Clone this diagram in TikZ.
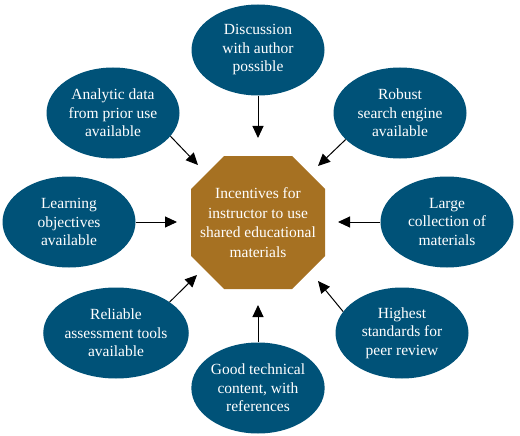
\documentclass[tikz,border=0pt]{standalone}
\usepackage{fontspec}
\setmainfont{Liberation Serif}
\usetikzlibrary{shapes.geometric,arrows.meta}
\definecolor{ellblue}{RGB}{0,82,120}
\definecolor{octgold}{RGB}{166,113,34}
\tikzset{
  idea/.style={ellipse, fill=ellblue, text=white, minimum width=133pt, minimum height=91pt,
    inner sep=0pt, align=center, font=\fontsize{15.5}{18.5}\selectfont},
  centertext/.style={text=white, align=center, inner sep=0pt, font=\fontsize{15.5}{19.5}\selectfont},
  feed/.style={draw=black, line width=1pt, -{Triangle[length=12pt,width=11pt]}}
}
\begin{document}
\begin{tikzpicture}[x=1pt,y=-1pt]
\useasboundingbox (0,0) rectangle (520,436);
% octagon
\fill[octgold] (224,156) -- (292,156) -- (325,189) -- (325,256) -- (292,289) -- (224,289) -- (191,256) -- (191,189) -- cycle;
\node[centertext] (oct) at (258,222.5) {Incentives for\\instructor to use\\shared educational\\materials};
% ideas
\node[idea] (top) at (258,50) {Discussion\\with author\\possible};
\node[idea] (tl) at (113,113) {Analytic data\\from prior use\\available};
\node[idea] (tr) at (400,113) {Robust\\search engine\\available};
\node[idea] (le) at (69,222) {Learning\\objectives\\available};
\node[idea] (ri) at (447,222) {Large\\collection of\\materials};
\node[idea] (bl) at (116,333) {Reliable\\assessment tools\\available};
\node[idea] (br) at (402,333) {Highest\\standards for\\peer review};
\node[idea] (bo) at (258,388) {Good technical\\content, with\\references};
% arrow tips
\coordinate (ttop) at (258,138);
\coordinate (ttl) at (198,165);
\coordinate (ttr) at (318,166);
\coordinate (tle) at (177,222);
\coordinate (tri) at (338,222);
\coordinate (tbl) at (197,275);
\coordinate (tbr) at (318,281);
\coordinate (tbo) at (258,305);
% arrows
\draw[feed] (top.south) -- (ttop);
\draw[feed] (tl.-22) -- (ttl);
\draw[feed] (tr.-154) -- (ttr);
\draw[feed] (le.east) -- (tle);
\draw[feed] (ri.west) -- (tri);
\draw[feed] (bl.30) -- (tbl);
\draw[feed] (br.160) -- (tbr);
\draw[feed] (bo.north) -- (tbo);
\end{tikzpicture}
\end{document}
